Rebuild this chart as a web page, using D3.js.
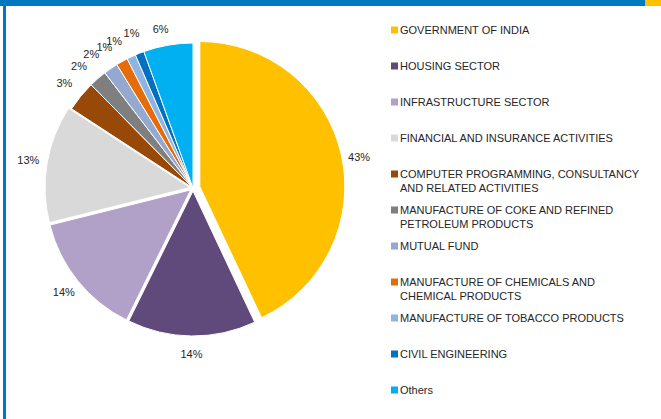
<!DOCTYPE html>
<html><head><meta charset="utf-8">
<script src="https://cdn.jsdelivr.net/npm/d3@7"></script>
<style>body{margin:0;background:#fff}svg{display:block;font-family:"Liberation Sans",Arial,sans-serif}</style>
</head><body>
<svg id="c" width="661" height="419"></svg>
<script>
const categories = ["GOVERNMENT OF INDIA","HOUSING SECTOR","INFRASTRUCTURE SECTOR","FINANCIAL AND INSURANCE ACTIVITIES","COMPUTER PROGRAMMING, CONSULTANCY AND RELATED ACTIVITIES","MANUFACTURE OF COKE AND REFINED PETROLEUM PRODUCTS","MUTUAL FUND","MANUFACTURE OF CHEMICALS AND CHEMICAL PRODUCTS","MANUFACTURE OF TOBACCO PRODUCTS","CIVIL ENGINEERING","Others"];
const legendLines = [["GOVERNMENT OF INDIA"],["HOUSING SECTOR"],["INFRASTRUCTURE SECTOR"],["FINANCIAL AND INSURANCE ACTIVITIES"],["COMPUTER PROGRAMMING, CONSULTANCY","AND RELATED ACTIVITIES"],["MANUFACTURE OF COKE AND REFINED","PETROLEUM PRODUCTS"],["MUTUAL FUND"],["MANUFACTURE OF CHEMICALS AND","CHEMICAL PRODUCTS"],["MANUFACTURE OF TOBACCO PRODUCTS"],["CIVIL ENGINEERING"],["Others"]];
const values = [43.0,14.3,13.8,13.1,3.4,2.0,1.6,1.3,1.0,1.0,5.5];
const colors = ["#FFC000","#604A7B","#B1A0C7","#D9D9D9","#984807","#7F7F7F","#95A9D0","#E46C0A","#8EB4E3","#0070C0","#00B0F0"];
const explode = [7,3,3,3,0,0,0,0,0,0,0];
// label placement style: radius and angular nudge (degrees) per slice
const labelR = [162,163,163,164,166,167,168,166,167,167,162];
const labelNudge = [2,0,0,0,0,-2,-2.7,-2.9,-3,0,-1.6];

const svg = d3.select("#c");
// frame
svg.append("rect").attr("x",0).attr("y",0).attr("width",645).attr("height",6).attr("fill","#0078C1");
svg.append("rect").attr("x",645).attr("y",0).attr("width",16).attr("height",6).attr("fill","#FFC000");
svg.append("rect").attr("x",3).attr("y",0).attr("width",3).attr("height",419).attr("fill","#0078C1");

const cx = 193, cy = 188, R = 145;
const pie = d3.pie().sort(null).value(d=>d);
const arcs = pie(values);
const arc = d3.arc().innerRadius(0).outerRadius(R);
const g = svg.append("g").attr("transform",`translate(${cx},${cy})`);
g.selectAll("path").data(arcs).join("path")
  .attr("d",arc)
  .attr("fill",(d,i)=>colors[i])
  .attr("stroke","#fff").attr("stroke-width",1)
  .attr("transform",(d,i)=>{const a=(d.startAngle+d.endAngle)/2;return `translate(${explode[i]*Math.sin(a)},${-explode[i]*Math.cos(a)})`;});

const ang = (d,i)=>(d.startAngle+d.endAngle)/2 + labelNudge[i]*Math.PI/180;
g.selectAll("text.lbl").data(arcs).join("text").attr("class","lbl")
  .attr("x",(d,i)=>(labelR[i]+explode[i])*Math.sin(ang(d,i)))
  .attr("y",(d,i)=>-(labelR[i]+explode[i])*Math.cos(ang(d,i)))
  .attr("text-anchor","middle").attr("dy","0.35em")
  .attr("font-size",11).attr("fill","#262626")
  .text(d=>Math.round(d.value)+"%");

// legend
const ly0 = 30, lstep = 36;
const lg = svg.append("g");
legendLines.forEach((lines,i)=>{
  const y = ly0 + i*lstep;
  lg.append("rect").attr("x",391).attr("y",y-3.5).attr("width",7).attr("height",7).attr("fill",colors[i]);
  lines.forEach((t,j)=>{
    lg.append("text").attr("x",400).attr("y",y+j*14).attr("dy","0.35em")
      .attr("font-size",11).attr("fill","#262626").text(t);
  });
});
</script>
</body></html>
